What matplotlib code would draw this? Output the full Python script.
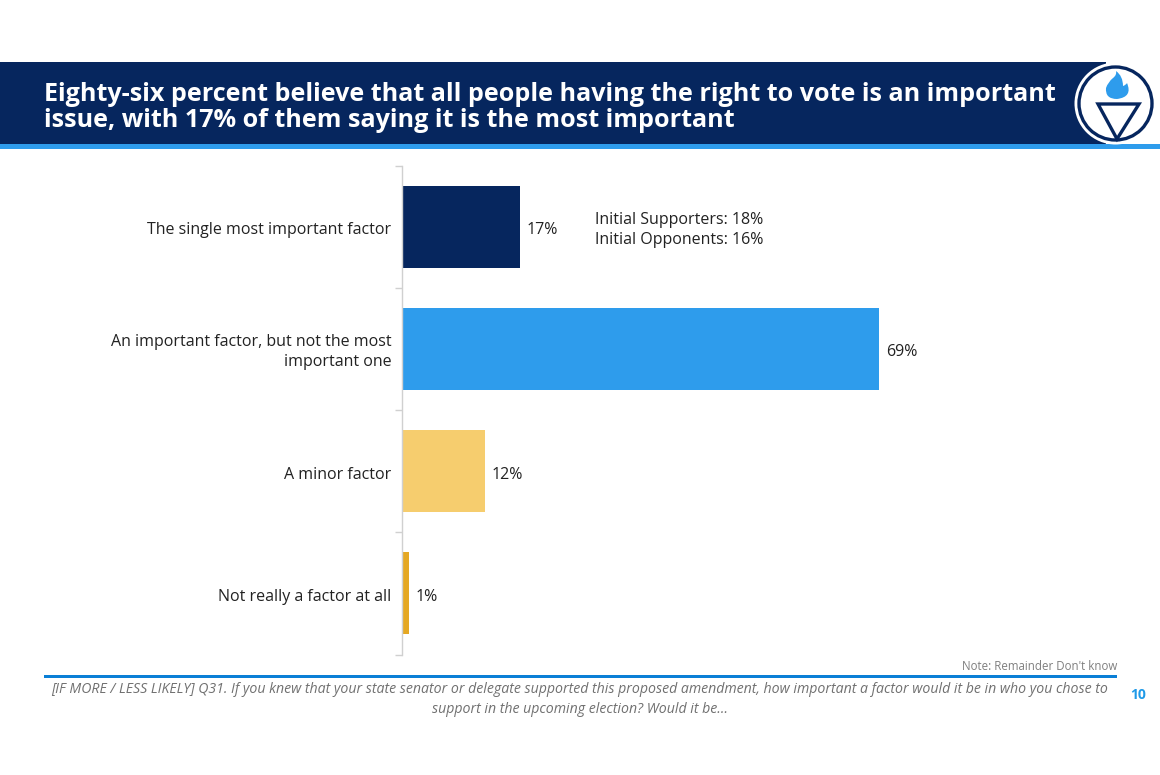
"""Right to vote importance slide."""

import matplotlib

matplotlib.use("Agg", force=True)
import matplotlib.pyplot as plt
from matplotlib.patches import Circle, PathPatch, Polygon, Rectangle
from matplotlib.path import Path

categories = [
    "The single most important factor",
    "An important factor, but not the most\nimportant one",
    "A minor factor",
    "Not really a factor at all",
]
values = [17, 69, 12, 1]
colors = ["#06265e", "#2e9cec", "#f6cd6e", "#e5a823"]
side_note = "Initial Supporters: 18%\nInitial Opponents: 16%"
title = (
    "Eighty-six percent believe that all people having the right to vote is an important\n"
    "issue, with 17% of them saying it is the most important"
)
question = (
    "[IF MORE / LESS LIKELY] Q31. If you knew that your state senator or delegate supported this proposed amendment, how important a factor would it be in who you chose to\n"
    "support in the upcoming election? Would it be…"
)
note = "Note: Remainder Don't know"
page = "10"

W, H = 1160, 775
NAVY = "#06265e"
BLUE = "#2e9cec"

plt.rcParams["font.family"] = ["Open Sans", "DejaVu Sans"]
fig = plt.figure(figsize=(W / 100, H / 100), dpi=100, facecolor="white")

# page furniture is laid out in pixels on a full-figure axes
bg = fig.add_axes([0, 0, 1, 1], zorder=0)
bg.set_xlim(0, W)
bg.set_ylim(H, 0)
bg.axis("off")
bg.add_patch(Rectangle((0, 62), 1106, 82, color=NAVY, lw=0))
bg.add_patch(Rectangle((0, 144), W, 5, color=BLUE, lw=0))
bg.text(44, 107.5, title, color="white", fontsize=18.08, fontweight="bold",
        va="center", ha="left", linespacing=1.09)

# logo
bg.add_patch(Circle((1115.5, 103.5), 41, color="white", lw=0, zorder=3))
bg.add_patch(Circle((1115.5, 103.5), 36.5, fc="white", ec=NAVY, lw=2.4, zorder=4))
bg.add_patch(Polygon([(1098, 104), (1139, 104), (1117, 139)], closed=True,
                     fc="white", ec=NAVY, lw=2.4, zorder=5))
flame_codes = [Path.MOVETO] + [Path.CURVE3] * 12
flame = Path(
    [(1117, 99), (1105, 99), (1106, 88), (1108, 82), (1113, 78), (1117, 75), (1116, 71),
     (1123, 76), (1123, 86), (1126, 85), (1127, 83), (1133, 97), (1117, 99)],
    flame_codes,
)
bg.add_patch(PathPatch(flame, fc=BLUE, ec="none", zorder=5))

# footer
bg.add_patch(Rectangle((44, 675), 1073, 3, color="#0a7fd6", lw=0))
bg.text(1117, 666.5, note, color="#7f7f7f", fontsize=8.3, ha="right", va="center")
bg.text(580, 699.5, question, color="#707070", fontsize=10.17, style="italic",
        ha="center", va="center", linespacing=1.42)
bg.text(1138, 695, page, color="#1f9ae8", fontsize=10, fontweight="bold",
        ha="center", va="center")
bg.text(595, 230, side_note, color="#222222", fontsize=11.55, ha="left", va="center",
        linespacing=1.36)

# bar chart
x0, x1 = 402, 1117
y0, y1 = 165.5, 654.5
ax = fig.add_axes([x0 / W, 1 - y1 / H, (x1 - x0) / W, (y1 - y0) / H], zorder=1)
ax.patch.set_alpha(0)
positions = list(range(len(categories)))
ax.barh(positions, values, height=0.67, color=colors)
ax.set_ylim(len(categories) - 0.5, -0.5)
ax.set_xlim(0, (x1 - x0) / 6.913)
for spine in ["top", "right", "bottom"]:
    ax.spines[spine].set_visible(False)
ax.spines["left"].set_color("#d0d0d0")
ax.spines["left"].set_linewidth(1)
ax.xaxis.set_visible(False)
ax.set_yticks([p - 0.5 for p in positions] + [len(categories) - 0.5])
ax.set_yticklabels([])
ax.tick_params(axis="y", length=5, color="#d0d0d0", width=1)
for pos, label, val in zip(positions, categories, values):
    ax.annotate(label, (0, pos), xytext=(-7.5, -2.5), textcoords="offset points",
                ha="right", va="center", fontsize=11.55, color="#222222", linespacing=1.34)
    ax.annotate(f"{val}%", (val, pos), xytext=(5, -2.5), textcoords="offset points",
                ha="left", va="center", fontsize=11.55, color="#222222")

fig.savefig("out.png", dpi=100)
plt.close(fig)
